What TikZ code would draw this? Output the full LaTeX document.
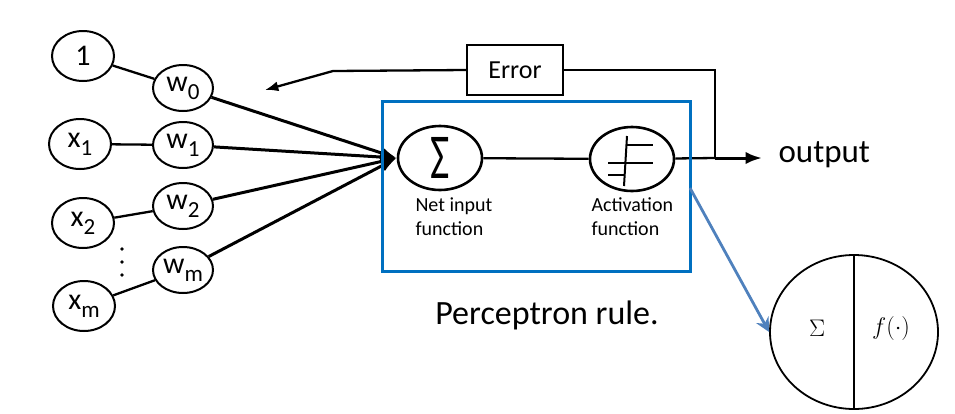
\documentclass[tikz,border=0pt]{standalone}
\usepackage{fix-cm}
\usepackage[no-math]{fontspec}
\setmainfont{Carlito}
\usetikzlibrary{positioning}
\usetikzlibrary{shapes.geometric}
\usetikzlibrary{arrows.meta}
\definecolor{boxBlue}{RGB}{0,112,192}
\definecolor{zoomBlue}{RGB}{79,129,189}
\newcommand{\lowsub}[1]{\raisebox{-8pt}{\fontsize{23}{23}\selectfont #1}}
\tikzset{inode/.style = {ellipse, draw, line width=2pt, minimum width=62pt, minimum height=50pt, inner sep=0pt, font=\fontsize{30}{30}\selectfont}}
\tikzset{wnode/.style = {inode, minimum width=60pt, minimum height=46pt}}
\tikzset{fnode/.style = {ellipse, draw, line width=2.6pt, minimum width=84pt, minimum height=64pt, inner sep=0pt}}
\tikzset{edge/.style = {black, line width=2.3pt}}
\tikzset{wire/.style = {black, line width=3pt, -{Latex}}}
\tikzset{caption/.style = {align=left, font=\fontsize{20}{24}\selectfont}}

\begin{document}
\begin{tikzpicture}[x=1pt, y=-1pt]
                    \useasboundingbox (0,0) rectangle (955,413);
                    % inputs and their weights
                    \node[inode] (one) at (83,56) {1};
                    \node[inode] (x1) at (80,144) {x\lowsub{1}};
                    \node[inode] (x2) at (83,223) {x\lowsub{2}};
                    \node[inode] (xm) at (84,306) {x\lowsub{m}};
                    \node[wnode] (w0) at (183,88) {w\lowsub{0}};
                    \node[wnode] (w1) at (183,145) {w\lowsub{1}};
                    \node[wnode] (w2) at (183,206) {w\lowsub{2}};
                    \node[wnode] (wm) at (183,270) {w\lowsub{m}};
                    \foreach \dy in {249,262,275} \fill (122,\dy) circle (1.8pt);

                    \node[fnode] (sum) at (440,158) {\scalebox{1.05}[1.6]{\fontsize{40}{40}\selectfont Σ}};
                    \node[fnode] (act) at (632,159) {};
                    \begin{scope}[shift={(act.center)}, line width=2pt]
                        \draw (-5,-23) -- (-8,27);
                        \draw (-24,4) -- (21,4);
                        \draw (-6,-14) -- (21,-14);
                        \draw (-24,16) -- (-7,16);
                    \end{scope}
                    \node[caption, anchor=base west] (netText) at (412,235) {Net input\\function};
                    \node[caption, anchor=base west] (actText) at (588,235) {Activation\\function};

                    \draw[edge] (one) -- (w0);
                    \draw[edge] (x1) -- (w1);
                    \draw[edge] (x2) -- (w2);
                    \draw[edge] (xm) -- (wm);
                    \draw[wire] (w0) -- (sum.west);
                    \draw[wire] (w1) -- (sum.west);
                    \draw[wire] (w2) -- (sum.west);
                    \draw[wire] (wm) -- (sum.west);
                    \draw[edge] (sum) -- (act);

                    % output and error feedback
                    \coordinate (split) at (715,158);
                    \coordinate (outTip) at (762,158);
                    \coordinate (bend) at (333,71);
                    \coordinate (fbTip) at (265,90);
                    \node[draw, line width=2pt, minimum width=96pt, minimum height=50pt, font=\fontsize{26}{26}\selectfont] (err) at (515,70) {Error};
                    \node[anchor=west, font=\fontsize{33}{33}\selectfont] (outText) at (775,155) {output};
                    \draw[edge] (act) -- (split);
                    \draw[wire] (split) -- (outTip);
                    \draw[edge] (split) |- (err.east);
                    \draw[edge, -{Latex}] (err.west) -- (bend) -- (fbTip);

                    % the unit, zoomed in
                    \draw[boxBlue, line width=3pt] (382,101) rectangle (690,271);
                    \node[font=\fontsize{34}{34}\selectfont, anchor=base] (rule) at (547,324) {Perceptron rule.};
                    \node[ellipse, draw, line width=1.8pt, minimum width=168pt, minimum height=154pt] (big) at (854,332) {};
                    \draw[line width=1.8pt] (big.north) -- (big.south);
                    \node[font=\fontsize{24}{28}\selectfont] (bigSum) at (817,328) {$\Sigma$};
                    \node[font=\fontsize{24}{28}\selectfont] (bigAct) at (891,328) {$f(\cdot)$};
                    \coordinate (boxEdge) at (690,188);
                    \draw[zoomBlue, line width=2.8pt, -{Stealth[length=14pt, width=14pt]}] (boxEdge) -- (big.west);
                \end{tikzpicture}
\end{document}
